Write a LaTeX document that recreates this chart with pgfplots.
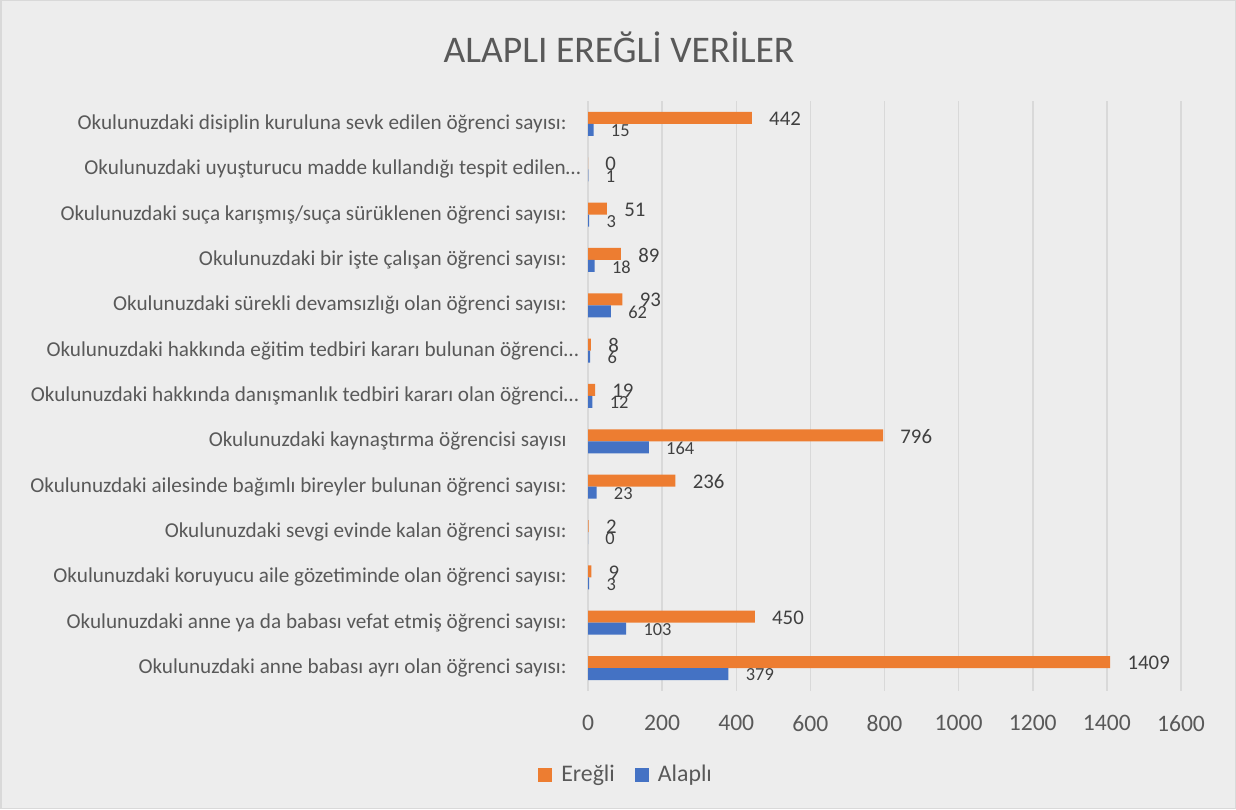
\documentclass[border=0pt]{standalone}
\usepackage{pgfplots}
\pgfplotsset{compat=1.18}
\usepackage{pgfplotstable}
\usepackage{fontspec}
\setmainfont{Carlito}
\definecolor{bg}{RGB}{237,237,237}
\definecolor{frame}{RGB}{217,217,217}
\definecolor{gridc}{RGB}{217,217,217}
\definecolor{txt}{RGB}{89,89,89}
\definecolor{lbl}{RGB}{64,64,64}
\definecolor{ereg}{RGB}{237,125,49}
\definecolor{alap}{RGB}{68,114,196}

\pgfplotstableread{
y E A
0 1409 379
1 450 103
2 9 3
3 2 0
4 236 23
5 796 164
6 19 12
7 8 6
8 93 62
9 89 18
10 51 3
11 0 1
12 442 15
}\data

\begin{document}
\begin{tikzpicture}[x=0.5pt,y=0.5pt]
\useasboundingbox (0,0) rectangle (1236,809);
\fill[bg] (0,0) rectangle (1236,809);
\draw[frame, line width=0.75pt] (0.75,0.75) rectangle (1235.25,808.25);
\node[txt, font=\fontsize{18.8}{22}\selectfont] at (619,762) {ALAPLI EREĞLİ VERİLER};
\begin{axis}[
  at={(294pt,59.15pt)}, anchor=south west,
  scale only axis, width=296.5pt, height=294.7pt,
  xbar, bar width=6pt,
  xmin=0, xmax=1600, ymin=-0.5, ymax=12.5,
  xtick={0,200,...,1600},
  ytick={0,...,12},
  yticklabels={
    {Okulunuzdaki anne babası ayrı olan öğrenci sayısı:},
    {Okulunuzdaki anne ya da babası vefat etmiş öğrenci sayısı:},
    {Okulunuzdaki koruyucu aile gözetiminde olan öğrenci sayısı:},
    {Okulunuzdaki sevgi evinde kalan öğrenci sayısı:},
    {Okulunuzdaki ailesinde bağımlı bireyler bulunan öğrenci sayısı:},
    {Okulunuzdaki kaynaştırma öğrencisi sayısı},
    {Okulunuzdaki hakkında danışmanlık tedbiri kararı olan öğrenci…\kern-6pt},
    {Okulunuzdaki hakkında eğitim tedbiri kararı bulunan öğrenci…\kern-6pt},
    {Okulunuzdaki sürekli devamsızlığı olan öğrenci sayısı:},
    {Okulunuzdaki bir işte çalışan öğrenci sayısı:},
    {Okulunuzdaki suça karışmış/suça sürüklenen öğrenci sayısı:},
    {Okulunuzdaki uyuşturucu madde kullandığı tespit edilen…\kern-7pt},
    {Okulunuzdaki disiplin kuruluna sevk edilen öğrenci sayısı:}
  },
  axis line style={draw=none},
  tick style={draw=none},
  major tick length=0pt,
  xmajorgrids, grid style={gridc, line width=0.75pt},
  /pgf/number format/assume math mode=true,
  /pgf/number format/1000 sep={},
  xticklabel style={font=\fontsize{11.8}{14}\selectfont, text=txt, inner sep=0pt, anchor=north},
  xticklabel shift=12pt,
  yticklabel style={font=\fontsize{10.6}{13}\selectfont, text=txt, inner sep=0pt, anchor=east},
  yticklabel shift=10.5pt,
  legend image code/.code={\fill[#1] (0pt,-3.5pt) rectangle (7pt,3.5pt);},
  legend style={at={(0.066,-0.143)}, anchor=center, draw=none, fill=none,
    font=\fontsize{11.9}{14}\selectfont, text=txt, legend columns=2,
    /tikz/every even column/.append style={column sep=8pt},
    /tikz/every odd column/.append style={column sep=2.5pt}},
  clip=false,
]
\addplot[fill=ereg, draw=none, bar shift=3pt,
  nodes near coords,
  nodes near coords style={anchor=west, inner sep=0pt, xshift=8.5pt, yshift=-0.5pt, text=lbl, font=\fontsize{10.4}{12}\selectfont}]
  table[x=E, y=y]{\data};
\addlegendentry{Ereğli}
\addplot[fill=alap, draw=none, bar shift=-3pt,
  nodes near coords,
  nodes near coords style={anchor=west, inner sep=0pt, xshift=8.5pt, yshift=-0.5pt, text=lbl, font=\fontsize{9.2}{11}\selectfont}]
  table[x=A, y=y]{\data};
\addlegendentry{Alaplı}
\end{axis}
\end{tikzpicture}
\end{document}
